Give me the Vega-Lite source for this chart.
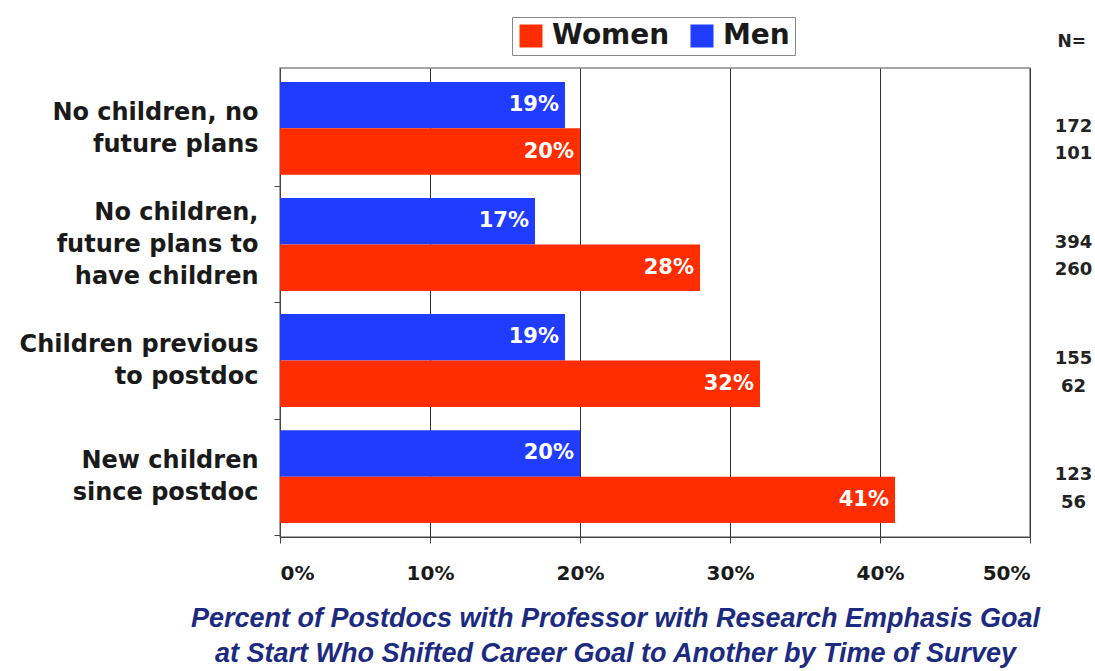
{
  "$schema": "https://vega.github.io/schema/vega-lite/v6.json",
  "autosize": "none",
  "padding": {"left": 280, "top": 68, "right": 65, "bottom": 134},
  "width": 750,
  "height": 469,
  "background": "white",
  "title": {
    "text": "N=",
    "anchor": "end",
    "frame": "group",
    "orient": "top",
    "dx": 56,
    "offset": -34,
    "font": "DejaVu Sans",
    "fontSize": 17,
    "fontWeight": "bold",
    "color": "#222"
  },
  "data": {
    "values": [
      {"cat": "No children, no|future plans", "gender": "Men", "value": 0.19, "n": 172},
      {"cat": "No children, no|future plans", "gender": "Women", "value": 0.20, "n": 101},
      {"cat": "No children,|future plans to|have children", "gender": "Men", "value": 0.17, "n": 394},
      {"cat": "No children,|future plans to|have children", "gender": "Women", "value": 0.28, "n": 260},
      {"cat": "Children previous|to postdoc", "gender": "Men", "value": 0.19, "n": 155},
      {"cat": "Children previous|to postdoc", "gender": "Women", "value": 0.32, "n": 62},
      {"cat": "New children|since postdoc", "gender": "Men", "value": 0.20, "n": 123},
      {"cat": "New children|since postdoc", "gender": "Women", "value": 0.41, "n": 56}
    ]
  },
  "encoding": {
    "y": {
      "field": "cat",
      "type": "nominal",
      "sort": null,
      "scale": {"paddingInner": 0.2, "paddingOuter": 0.12},
      "axis": {
        "title": null,
        "labelExpr": "split(datum.label, '|')",
        "labelLineHeight": 32,
        "tickOffset": 58,
        "labelOffset": {"condition": {"test": "length(split(datum.label, '|')) > 2", "value": -90}, "value": -74},
        "labelFont": "DejaVu Sans",
        "labelFontSize": 24,
        "labelFontWeight": "bold",
        "labelColor": "#1a1a1a",
        "labelPadding": 16,
        "labelLimit": 300,
        "tickSize": 6,
        "tickColor": "#444",
        "domainColor": "#444",
        "grid": false
      }
    }
  },
  "layer": [
    {
      "mark": {"type": "bar"},
      "encoding": {
        "x": {
          "field": "value",
          "type": "quantitative",
          "scale": {"domain": [0, 0.5]},
          "axis": {
            "values": [0, 0.1, 0.2, 0.3, 0.4, 0.5],
            "format": ".0%",
            "labelFont": "DejaVu Sans",
            "labelFontSize": 20,
            "labelFontWeight": "bold",
            "labelColor": "#1a1a1a",
            "labelPadding": 20,
            "tickSize": 6,
            "tickColor": "#444",
            "domainColor": "#444",
            "grid": true,
            "gridColor": "#333",
            "gridWidth": 1,
            "title": [
              "Percent of Postdocs with Professor with Research Emphasis Goal",
              "at Start Who Shifted Career Goal to Another by Time of Survey"
            ],
            "titleFont": "Liberation Sans",
            "titleFontSize": 27,
            "titleFontWeight": "bold",
            "titleFontStyle": "italic",
            "titleColor": "#1c2a80",
            "titleLineHeight": 35,
            "titlePadding": 22,
            "titleX": 335,
            "titleAlign": "center"
          }
        },
        "yOffset": {
          "field": "gender",
          "type": "nominal",
          "sort": ["Men", "Women"],
          "scale": {"paddingInner": 0, "paddingOuter": 0}
        },
        "color": {
          "field": "gender",
          "type": "nominal",
          "scale": {"domain": ["Women", "Men"], "range": ["#ff2d00", "#1f3cff"]},
          "legend": {
            "title": null,
            "orient": "none",
            "legendX": 232,
            "legendY": -51,
            "direction": "horizontal",
            "symbolType": "square",
            "symbolSize": 529,
            "symbolStrokeWidth": 0,
            "labelFont": "DejaVu Sans",
            "labelFontSize": 28,
            "labelFontWeight": "bold",
            "labelColor": "#1a1a1a",
            "labelOffset": 7,
            "columnPadding": 18,
            "padding": 5,
            "strokeColor": "#888",
            "fillColor": "white"
          }
        }
      }
    },
    {
      "mark": {
        "type": "text",
        "align": "right",
        "dx": -6,
        "font": "DejaVu Sans",
        "fontSize": 21,
        "fontWeight": "bold",
        "baseline": "middle"
      },
      "encoding": {
        "x": {"field": "value", "type": "quantitative"},
        "yOffset": {"field": "gender", "type": "nominal", "sort": ["Men", "Women"]},
        "text": {"field": "value", "type": "quantitative", "format": ".0%"},
        "color": {"value": "white"}
      }
    },
    {
      "transform": [{"filter": "datum.gender == 'Men'"}],
      "mark": {
        "type": "text",
        "align": "center",
        "baseline": "middle",
        "font": "DejaVu Sans",
        "fontSize": 18,
        "fontWeight": "bold",
        "color": "#222",
        "clip": false
      },
      "encoding": {
        "x": {"datum": 0.529},
        "y": {"field": "cat", "type": "nominal", "sort": null, "bandPosition": 0.48},
        "text": {"field": "n", "type": "quantitative"}
      }
    },
    {
      "transform": [{"filter": "datum.gender == 'Women'"}],
      "mark": {
        "type": "text",
        "align": "center",
        "baseline": "middle",
        "font": "DejaVu Sans",
        "fontSize": 18,
        "fontWeight": "bold",
        "color": "#222",
        "clip": false
      },
      "encoding": {
        "x": {"datum": 0.529},
        "y": {"field": "cat", "type": "nominal", "sort": null, "bandPosition": 0.78},
        "text": {"field": "n", "type": "quantitative"}
      }
    }
  ],
  "config": {
    "view": {"stroke": "#888", "strokeWidth": 1.5}
  }
}
